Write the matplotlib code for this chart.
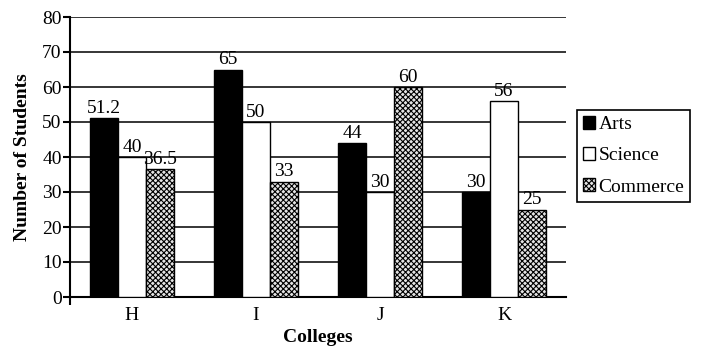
import numpy as np
import matplotlib
matplotlib.use("Agg")
import matplotlib.pyplot as plt

colleges = ["H", "I", "J", "K"]
arts = [51.2, 65, 44, 30]
science = [40, 50, 30, 56]
commerce = [36.5, 33, 60, 25]

plt.rcParams["font.family"] = ["Liberation Serif", "DejaVu Serif"]
plt.rcParams["font.size"] = 14
plt.rcParams["hatch.color"] = "#707070"
plt.rcParams["hatch.linewidth"] = 0.8

fig = plt.figure(figsize=(7.01, 3.52), dpi=100)
ax = fig.add_axes([70 / 701, 1 - 297 / 352, 496 / 701, 280 / 352])

x = np.arange(len(colleges))
w = 0.226
b1 = ax.bar(x - w, arts, w, color="black", edgecolor="black", linewidth=1, label="Arts", zorder=3)
b2 = ax.bar(x, science, w, color="white", edgecolor="black", linewidth=1, label="Science", zorder=3)
b3 = ax.bar(x + w, commerce, w, color="#e4e4e4", edgecolor="black", linewidth=1,
            hatch="xxxxxx", label="Commerce", zorder=3)

# value above every bar
for bars, vals in ((b1, arts), (b2, science), (b3, commerce)):
    for r, v in zip(bars, vals):
        ax.text(r.get_x() + r.get_width() / 2, v + 0.3, f"{v:g}",
                ha="center", va="bottom", fontsize=14, zorder=4)

ax.set_xlim(-0.5, 3.5)
ax.set_ylim(0, 80)
ax.set_yticks(range(0, 81, 10))
ax.set_xticks(x)
ax.set_xticklabels(colleges)
ax.set_xticks([-0.5], minor=True)
ax.tick_params(axis="x", which="major", length=0, pad=7)
ax.tick_params(axis="x", which="minor", length=6, width=1.5, direction="out")
ax.tick_params(axis="y", length=5, width=1.5, pad=1)

ax.yaxis.grid(True, color="black", linewidth=1.1)
ax.set_axisbelow(True)
for s in ("top", "right"):
    ax.spines[s].set_visible(False)
ax.spines["left"].set_linewidth(1.5)
ax.spines["bottom"].set_linewidth(1.5)

ax.set_ylabel("Number of Students", fontweight="bold", fontsize=14)
ax.set_xlabel("Colleges", fontweight="bold", fontsize=14)
ax.yaxis.set_label_coords(-0.078, 0.5)
ax.xaxis.set_label_coords(0.5, -0.115)

leg = fig.legend(loc="upper left", bbox_to_anchor=(577 / 701, 1 - 110 / 352),
                 frameon=True, fancybox=False, edgecolor="black", framealpha=1,
                 handlelength=0.65, handleheight=0.65, handletextpad=0.15,
                 labelspacing=0.72, borderpad=0.3, borderaxespad=0)
leg.get_frame().set_linewidth(1.2)

fig.savefig("out.png", dpi=100)
